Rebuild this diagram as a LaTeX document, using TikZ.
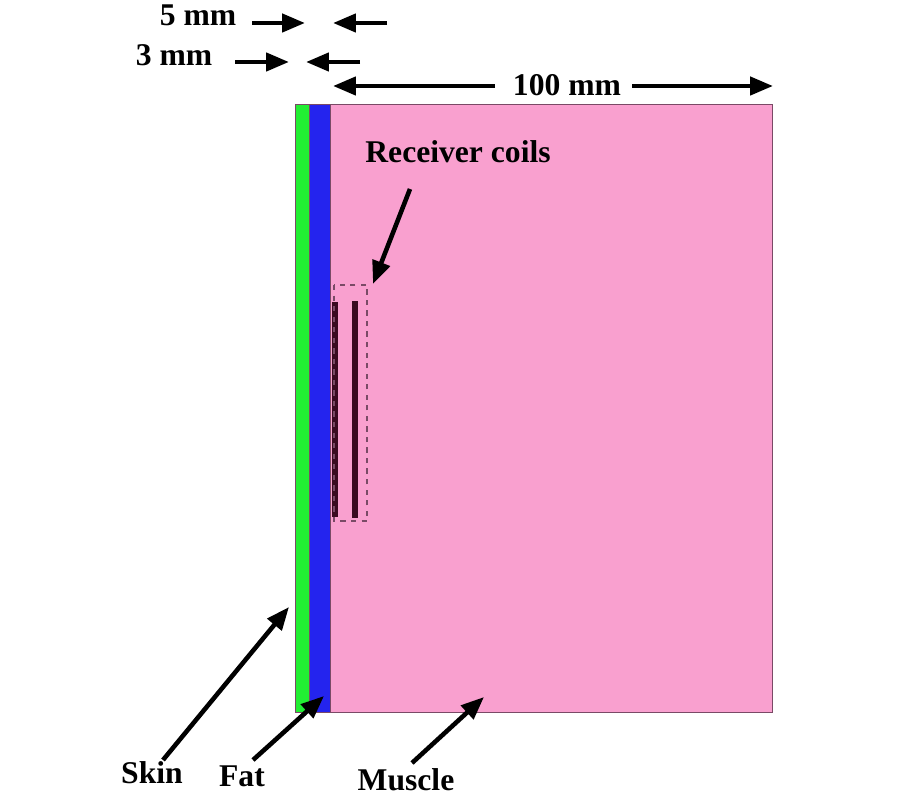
\documentclass[tikz,border=0pt]{standalone}
\usepackage{fontspec}
\setmainfont{Liberation Serif}
\usetikzlibrary{arrows.meta}
\definecolor{musclepink}{HTML}{F9A0CF}
\definecolor{skingreen}{HTML}{22EE33}
\definecolor{fatblue}{HTML}{2424EE}
\definecolor{coildark}{HTML}{3A0A20}
\definecolor{edgegrey}{HTML}{7A4A66}
\begin{document}
\begin{tikzpicture}[
    x=0.02cm, y=-0.02cm,
    tissue/.style={draw=edgegrey, line width=0.5pt},
    coil/.style={fill=coildark, draw=none},
    lbl/.style={font=\fontsize{18}{20}\selectfont\bfseries, inner sep=0pt},
    pointer/.style={line width=2.6pt, -{Triangle[length=0.46cm, width=0.36cm]}},
]
\useasboundingbox (0,0) rectangle (900,800);

% tissue layers
\draw[tissue, fill=musclepink] (330,104) rectangle (772,712);
\draw[tissue, fill=fatblue] (309,104) rectangle (330,712);
\draw[tissue, fill=skingreen] (295,104) rectangle (309,712);

% receiver coils
\fill[coil] (332,302) rectangle (338,517);
\fill[coil] (352,301) rectangle (358,518);
\draw[edgegrey, dashed, line width=0.6pt] (334,285) rectangle (367,521);

% dimension labels
\node[lbl] (five) at (198,15) {5 mm};
\node[lbl] (three) at (174,55) {3 mm};
\node[lbl] (hundred) at (567,85) {100 mm};

\coordinate (f1) at (252,23);  \coordinate (f2) at (305,23);
\coordinate (f3) at (387,23);  \coordinate (f4) at (333,23);
\coordinate (t1) at (235,62);  \coordinate (t2) at (289,62);
\coordinate (t3) at (360,62);  \coordinate (t4) at (306,62);
\coordinate (h1) at (495,86);  \coordinate (h2) at (333,86);
\coordinate (h3) at (632,86);  \coordinate (h4) at (773,86);

\draw[pointer] (f1) -- (f2);
\draw[pointer] (f3) -- (f4);
\draw[pointer] (t1) -- (t2);
\draw[pointer] (t3) -- (t4);
\draw[pointer] (h1) -- (h2);
\draw[pointer] (h3) -- (h4);

% part labels
\node[lbl] (coils) at (458,152) {Receiver coils};
\node[lbl] (skin) at (152,773) {Skin};
\node[lbl] (fat) at (242,776) {Fat};
\node[lbl] (muscle) at (406,780) {Muscle};

\coordinate (coilsTail) at (410,189);  \coordinate (coilsTip) at (373,284);
\coordinate (skinTail) at (163,760);   \coordinate (skinTip) at (289,607);
\coordinate (fatTail) at (253,760);    \coordinate (fatTip) at (324,696);
\coordinate (muscleTail) at (412,763); \coordinate (muscleTip) at (484,697);

\draw[pointer] (coilsTail) -- (coilsTip);
\draw[pointer] (skinTail) -- (skinTip);
\draw[pointer] (fatTail) -- (fatTip);
\draw[pointer] (muscleTail) -- (muscleTip);

\end{tikzpicture}
\end{document}
